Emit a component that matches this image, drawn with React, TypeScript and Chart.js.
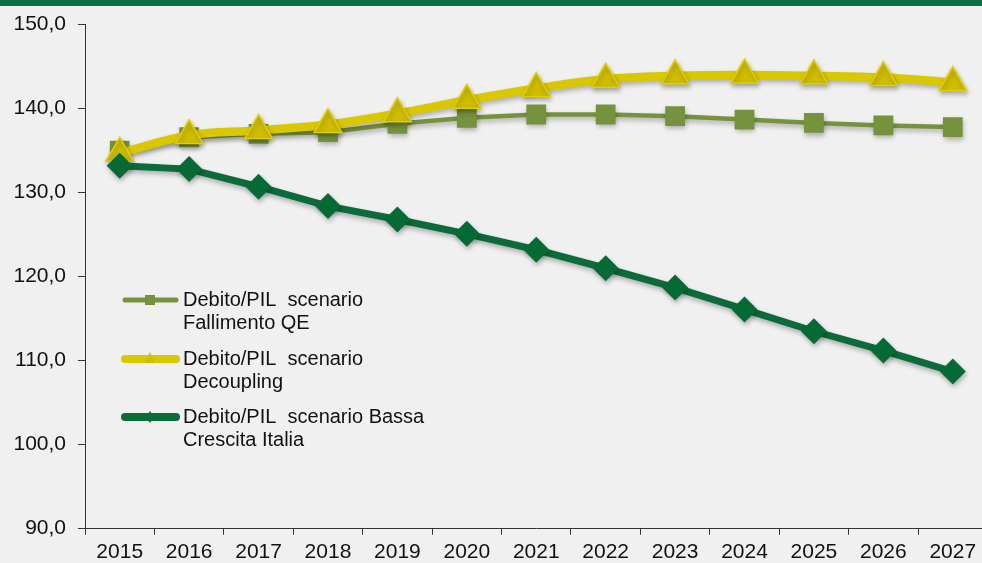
import React, { useEffect, useRef } from "react";
import { Chart, registerables } from "chart.js";

Chart.register(...registerables);

const years = ["2015", "2016", "2017", "2018", "2019", "2020", "2021", "2022", "2023", "2024", "2025", "2026", "2027"];
const fallimentoQE = [135.0, 136.6, 137.0, 137.2, 138.2, 138.9, 139.3, 139.3, 139.1, 138.7, 138.3, 138.0, 137.8];
const decoupling = [134.7, 136.8, 137.4, 138.1, 139.4, 141.0, 142.4, 143.5, 143.9, 144.0, 143.9, 143.7, 143.1];
const bassaCrescita = [133.2, 132.8, 130.7, 128.4, 126.8, 125.1, 123.2, 121.0, 118.7, 116.1, 113.5, 111.2, 108.7];
const legendLines = [
  ["Debito/PIL  scenario", "Fallimento QE"],
  ["Debito/PIL  scenario", "Decoupling"],
  ["Debito/PIL  scenario Bassa", "Crescita Italia"],
];

const OLIVE = "#76923c";
const YELLOW = "#d8c800";
const GREEN = "#0b6b3b";
const FONT = "'Liberation Sans', Arial, sans-serif";

const shadowPlugin = {
  id: "shadowPlugin",
  beforeDatasetDraw(chart: any) {
    const ctx = chart.ctx;
    ctx.save();
    ctx.shadowColor = "rgba(0,0,0,0.28)";
    ctx.shadowBlur = 5;
    ctx.shadowOffsetX = 1;
    ctx.shadowOffsetY = 3;
  },
  afterDatasetDraw(chart: any) {
    chart.ctx.restore();
  },
};

const legendPlugin = {
  id: "customLegend",
  afterDraw(chart: any) {
    const ctx = chart.ctx;
    ctx.save();
    // top bar
    ctx.fillStyle = "#0a6e46";
    ctx.fillRect(0, 0, chart.width, 6);
    const entries = [
      { y: 300, color: OLIVE, width: 5, style: "rect" },
      { y: 359, color: YELLOW, width: 8, style: "triangle" },
      { y: 417, color: GREEN, width: 8, style: "rectRot" },
    ];
    entries.forEach((e, i) => {
      ctx.strokeStyle = e.color;
      ctx.lineWidth = e.width;
      ctx.lineCap = "round";
      ctx.beginPath();
      ctx.moveTo(125, e.y);
      ctx.lineTo(176, e.y);
      ctx.stroke();
      ctx.fillStyle = e.color;
      ctx.beginPath();
      const x = 150;
      const y = e.y;
      if (e.style === "rect") {
        ctx.rect(x - 5, y - 5, 10, 10);
      } else if (e.style === "triangle") {
        ctx.fillStyle = "#cfbd00";
        ctx.moveTo(x, y - 7);
        ctx.lineTo(x + 5, y + 4);
        ctx.lineTo(x - 5, y + 4);
        ctx.closePath();
      } else {
        ctx.moveTo(x, y - 6);
        ctx.lineTo(x + 4, y);
        ctx.lineTo(x, y + 6);
        ctx.lineTo(x - 4, y);
        ctx.closePath();
      }
      ctx.fill();
      ctx.fillStyle = "#111";
      ctx.font = `20px ${FONT}`;
      ctx.textBaseline = "middle";
      ctx.textAlign = "left";
      ctx.fillText(legendLines[i][0], 183, e.y);
      ctx.fillText(legendLines[i][1], 183, e.y + 23.5);
    });
    ctx.restore();
  },
};

export default function App() {
  const ref = useRef<HTMLCanvasElement>(null);
  useEffect(() => {
    if (!ref.current) return;
    const chart = new Chart(ref.current, {
      type: "line",
      data: {
        labels: years,
        datasets: [
          {
            label: "Debito/PIL  scenario Fallimento QE",
            data: fallimentoQE,
            borderColor: OLIVE,
            backgroundColor: OLIVE,
            borderWidth: 4.5,
            pointStyle: "rect",
            pointRadius: 14,
            pointBorderWidth: 0,
            pointBackgroundColor: OLIVE,
            tension: 0,
            order: 2,
          },
          {
            label: "Debito/PIL  scenario Decoupling",
            data: decoupling,
            borderColor: YELLOW,
            backgroundColor: YELLOW,
            borderWidth: 8.5,
            pointStyle: "triangle",
            pointRadius: 16,
            pointBorderWidth: 1.5,
            pointBorderColor: "#e0d000",
            pointBackgroundColor: "#cfbd00",
            tension: 0.4,
            order: 1,
          },
          {
            label: "Debito/PIL  scenario Bassa Crescita Italia",
            data: bassaCrescita,
            borderColor: GREEN,
            backgroundColor: GREEN,
            borderWidth: 7,
            pointStyle: "rectRot",
            pointRadius: 13,
            pointBorderWidth: 0,
            pointBackgroundColor: "#066a35",
            tension: 0,
            order: 0,
          },
        ],
      },
      options: {
        animation: false,
        responsive: false,
        maintainAspectRatio: false,
        layout: { padding: { top: 22, left: 0, right: 0, bottom: 0 } },
        plugins: {
          legend: { display: false },
          tooltip: { enabled: false },
        },
        scales: {
          x: {
            type: "category",
            offset: true,
            grid: {
              offset: true,
              drawOnChartArea: false,
              drawTicks: true,
              tickLength: 6,
              color: "#333",
            },
            border: { display: true, color: "#333", width: 1 },
            ticks: {
              color: "#111",
              font: { size: 21, family: FONT },
              padding: 5,
              maxRotation: 0,
              autoSkip: false,
            },
            afterFit(scale: any) {
              scale.height = 34.3;
            },
          },
          y: {
            min: 90,
            max: 150,
            ticks: {
              stepSize: 10,
              color: "#111",
              font: { size: 21, family: FONT },
              padding: 12,
              callback: (v: any) => Number(v).toFixed(1).replace(".", ","),
            },
            grid: {
              drawOnChartArea: false,
              drawTicks: true,
              tickLength: 7,
              color: "#333",
            },
            border: { display: true, color: "#333", width: 1 },
            afterFit(scale: any) {
              scale.width = 85;
            },
          },
        },
      },
      plugins: [shadowPlugin, legendPlugin],
    } as any);
    return () => chart.destroy();
  }, []);
  return (
    <div
      style={{
        position: "fixed",
        left: 0,
        top: 0,
        width: 982,
        height: 563,
        overflow: "hidden",
        background: "#f0f0f0",
      }}
    >
      <canvas ref={ref} width={1005} height={563} style={{ display: "block", width: 1005, height: 563 }} />
    </div>
  );
}
